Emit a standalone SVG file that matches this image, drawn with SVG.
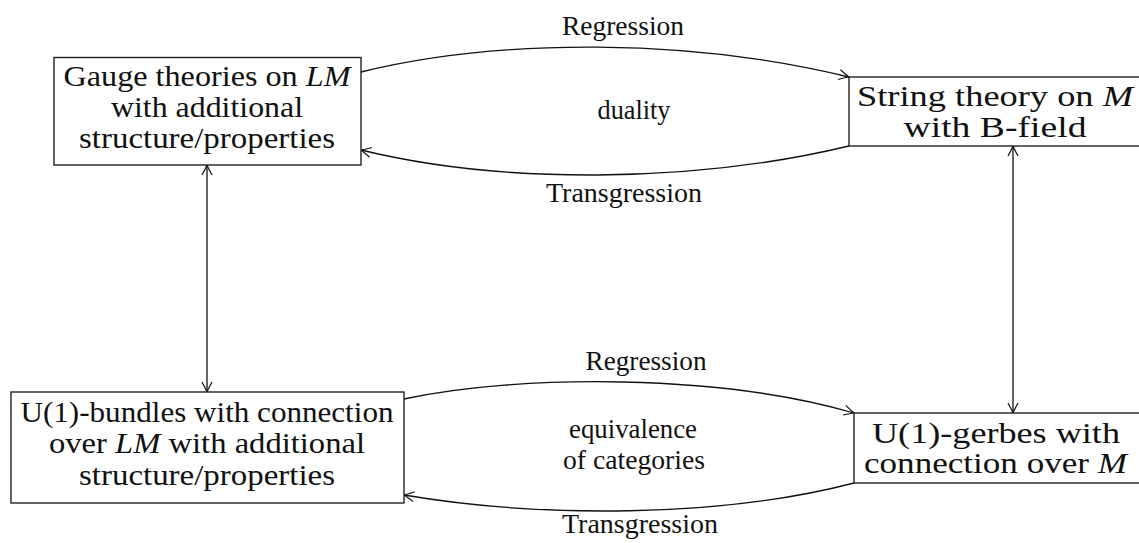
<svg xmlns="http://www.w3.org/2000/svg" width="1139" height="543" viewBox="0 0 1139 543">
<style>
.box{fill:#fff;stroke:#222;stroke-width:1.4}
.nt{font-family:'Liberation Serif','DejaVu Serif','Times New Roman',serif;font-size:30px;fill:#111;text-anchor:middle}
.lb{font-family:'Liberation Serif','DejaVu Serif','Times New Roman',serif;font-size:26.5px;fill:#111;text-anchor:middle}
.it{font-style:italic}
.edge{fill:none;stroke:#111;stroke-width:1.3}
</style>
<defs>
<marker id="arr" viewBox="-12 -7 14 14" markerWidth="14" markerHeight="14" refX="0" refY="0" orient="auto-start-reverse" markerUnits="userSpaceOnUse">
<path d="M-10,-5 Q-3,-1.2 0,0 Q-3,1.2 -10,5" fill="none" stroke="#111" stroke-width="1.2"/>
</marker>
</defs>
<g id="connectors">
<path class="edge" d="M361,72 C500,38 690,38 849,77" marker-end="url(#arr)"/>
<path class="edge" d="M849,146 C690,184 500,184 361,150" marker-end="url(#arr)"/>
<path class="edge" d="M404,399 C520,374 720,374 854,413" marker-end="url(#arr)"/>
<path class="edge" d="M854,483 C720,518 540,518 404,495" marker-end="url(#arr)"/>
<path class="edge" d="M207,165 L207,392" marker-start="url(#arr)" marker-end="url(#arr)"/>
<path class="edge" d="M1013,146 L1013,413" marker-start="url(#arr)" marker-end="url(#arr)"/>
<text class="lb" x="623" y="35" textLength="122" lengthAdjust="spacingAndGlyphs">Regression</text>
<text class="lb" x="634" y="119" textLength="73" lengthAdjust="spacingAndGlyphs">duality</text>
<text class="lb" x="624" y="202" textLength="156" lengthAdjust="spacingAndGlyphs">Transgression</text>
<text class="lb" x="646" y="370" textLength="121" lengthAdjust="spacingAndGlyphs">Regression</text>
<text class="lb" x="633" y="438" textLength="128" lengthAdjust="spacingAndGlyphs">equivalence</text>
<text class="lb" x="634" y="469" textLength="142" lengthAdjust="spacingAndGlyphs">of categories</text>
<text class="lb" x="640" y="533" textLength="156" lengthAdjust="spacingAndGlyphs">Transgression</text>
</g>
<g id="gauge">
<rect class="box" x="54" y="57.5" width="307" height="107.5"/>
<text class="nt" x="207" y="86" textLength="287" lengthAdjust="spacingAndGlyphs">Gauge theories on <tspan class="it">LM</tspan></text>
<text class="nt" x="207" y="117" textLength="192" lengthAdjust="spacingAndGlyphs">with additional</text>
<text class="nt" x="207" y="148" textLength="256" lengthAdjust="spacingAndGlyphs">structure/properties</text>
</g>
<g id="string">
<rect class="box" x="849" y="77" width="300" height="69"/>
<text class="nt" x="995" y="106" textLength="276" lengthAdjust="spacingAndGlyphs">String theory on <tspan class="it">M</tspan></text>
<text class="nt" x="995" y="137" textLength="183" lengthAdjust="spacingAndGlyphs">with B-field</text>
</g>
<g id="bundles">
<rect class="box" x="11" y="392" width="393" height="111"/>
<text class="nt" x="207" y="422" textLength="373" lengthAdjust="spacingAndGlyphs">U(1)-bundles with connection</text>
<text class="nt" x="207" y="453" textLength="316" lengthAdjust="spacingAndGlyphs">over <tspan class="it">LM</tspan> with additional</text>
<text class="nt" x="207" y="485" textLength="256" lengthAdjust="spacingAndGlyphs">structure/properties</text>
</g>
<g id="gerbes">
<rect class="box" x="854" y="413" width="300" height="70"/>
<text class="nt" x="996" y="443" textLength="248" lengthAdjust="spacingAndGlyphs">U(1)-gerbes with</text>
<text class="nt" x="995.5" y="473" textLength="263" lengthAdjust="spacingAndGlyphs">connection over <tspan class="it">M</tspan></text>
</g>
</svg>
